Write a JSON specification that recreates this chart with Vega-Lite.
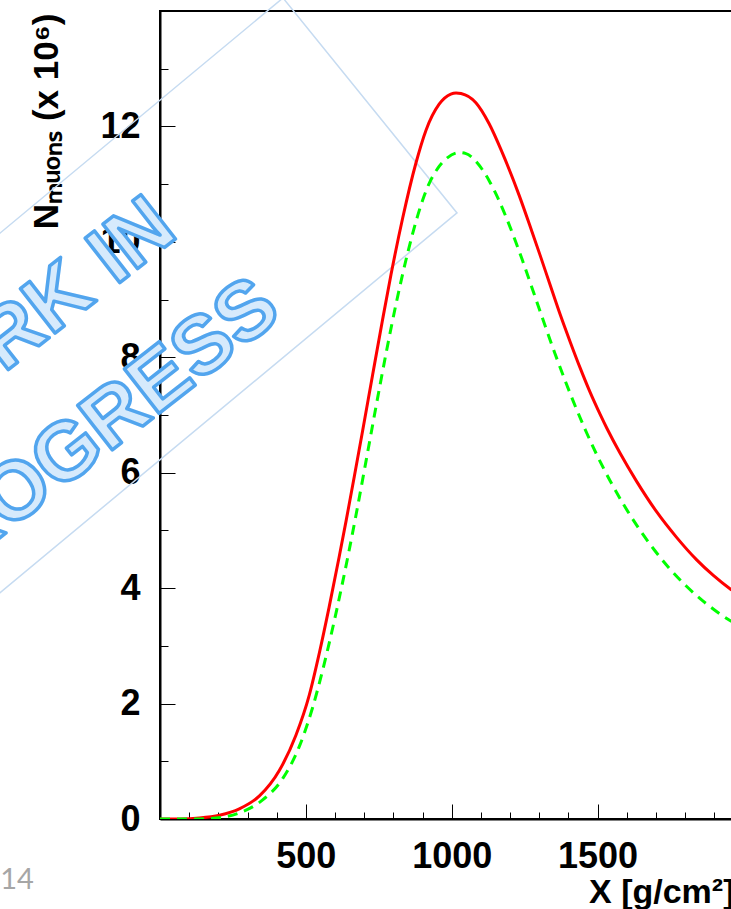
{
  "$schema": "https://vega.github.io/schema/vega-lite/v6.json",
  "width": 579,
  "height": 808,
  "autosize": {"type": "none"},
  "padding": {"left": 160, "top": 11, "right": -8, "bottom": 90},
  "background": "white",
  "config": {"view": {"stroke": "black", "strokeWidth": 2}, "font": "Liberation Sans"},
  "datasets": {
    "red": [
      {"x": 0, "y": 0}, {"x": 70, "y": 0.001}, {"x": 135, "y": 0.017}, {"x": 204, "y": 0.065},
      {"x": 272, "y": 0.175}, {"x": 341, "y": 0.4}, {"x": 409, "y": 0.84}, {"x": 466, "y": 1.45},
      {"x": 512, "y": 2.15}, {"x": 546, "y": 2.87}, {"x": 580, "y": 3.675}, {"x": 615, "y": 4.56},
      {"x": 638, "y": 5.165}, {"x": 666, "y": 5.93}, {"x": 695, "y": 6.736}, {"x": 729, "y": 7.698},
      {"x": 763, "y": 8.65}, {"x": 792, "y": 9.433}, {"x": 832, "y": 10.413}, {"x": 877, "y": 11.358},
      {"x": 912, "y": 11.935}, {"x": 957, "y": 12.385}, {"x": 997, "y": 12.56}, {"x": 1015, "y": 12.58},
      {"x": 1032, "y": 12.57}, {"x": 1083, "y": 12.41}, {"x": 1128, "y": 12.05}, {"x": 1173, "y": 11.55},
      {"x": 1231, "y": 10.81}, {"x": 1275, "y": 10.18}, {"x": 1303, "y": 9.77}, {"x": 1337, "y": 9.26},
      {"x": 1372, "y": 8.74}, {"x": 1406, "y": 8.27}, {"x": 1440, "y": 7.82}, {"x": 1474, "y": 7.4},
      {"x": 1509, "y": 7.01}, {"x": 1532, "y": 6.77}, {"x": 1577, "y": 6.34}, {"x": 1634, "y": 5.85},
      {"x": 1703, "y": 5.32}, {"x": 1771, "y": 4.88}, {"x": 1840, "y": 4.49}, {"x": 1897, "y": 4.22},
      {"x": 1954, "y": 3.99}, {"x": 2000, "y": 3.84}
    ],
    "green": [
      {"x": 0, "y": 0}, {"x": 120, "y": 0.0}, {"x": 192, "y": 0.018}, {"x": 272, "y": 0.106},
      {"x": 352, "y": 0.33}, {"x": 421, "y": 0.703}, {"x": 478, "y": 1.262}, {"x": 523, "y": 1.928},
      {"x": 558, "y": 2.586}, {"x": 592, "y": 3.31}, {"x": 626, "y": 4.099}, {"x": 649, "y": 4.669},
      {"x": 672, "y": 5.267}, {"x": 706, "y": 6.192}, {"x": 740, "y": 7.13}, {"x": 775, "y": 8.068},
      {"x": 809, "y": 8.918}, {"x": 849, "y": 9.806}, {"x": 880, "y": 10.395}, {"x": 900, "y": 10.715},
      {"x": 923, "y": 11.014}, {"x": 951, "y": 11.266}, {"x": 986, "y": 11.459}, {"x": 1026, "y": 11.547},
      {"x": 1049, "y": 11.529}, {"x": 1088, "y": 11.365}, {"x": 1128, "y": 11.065}, {"x": 1157, "y": 10.775},
      {"x": 1186, "y": 10.436}, {"x": 1220, "y": 9.994}, {"x": 1242, "y": 9.688}, {"x": 1269, "y": 9.297},
      {"x": 1292, "y": 8.959}, {"x": 1320, "y": 8.55}, {"x": 1354, "y": 8.067}, {"x": 1389, "y": 7.594},
      {"x": 1417, "y": 7.236}, {"x": 1457, "y": 6.756}, {"x": 1497, "y": 6.316}, {"x": 1543, "y": 5.861},
      {"x": 1588, "y": 5.46}, {"x": 1634, "y": 5.092}, {"x": 1691, "y": 4.687}, {"x": 1748, "y": 4.334},
      {"x": 1805, "y": 4.032}, {"x": 1862, "y": 3.775}, {"x": 1908, "y": 3.596}, {"x": 1954, "y": 3.44},
      {"x": 2000, "y": 3.307}
    ],
    "stamp": [
      {"k": 1, "x": -1950.7, "y": 4.263},
      {"k": 2, "x": 421.7, "y": 14.226},
      {"k": 3, "x": 1018.2, "y": 10.501},
      {"k": 4, "x": -1354, "y": 0.537}
    ],
    "stampText": [
      {"t": "WORK IN", "x": 68.6, "y": 10.11},
      {"t": "PROGRESS", "x": 425, "y": 8.72}
    ],
    "page": [
      {"t": "14", "x": -548, "y": -1.22}
    ]
  },
  "encoding": {
    "x": {
      "field": "x",
      "type": "quantitative",
      "scale": {"domain": [0, 1985], "nice": false, "zero": false},
      "axis": {
        "values": [0, 100, 200, 300, 400, 500, 600, 700, 800, 900, 1000, 1100, 1200, 1300, 1400, 1500, 1600, 1700, 1800, 1900],
        "format": "d",
        "labelExpr": "datum.value % 500 === 0 && datum.value > 0 ? datum.label : ''",
        "tickSize": {"condition": {"test": "datum.value % 500 === 0", "value": -15}, "value": -7},
        "tickColor": "black",
        "tickWidth": 1,
        "domainColor": "black",
        "domainWidth": 2,
        "grid": false,
        "labelFont": "Liberation Sans",
        "labelFontWeight": "bold",
        "labelFontSize": 36,
        "labelColor": "black",
        "labelPadding": 35,
        "labelOverlap": false,
        "labelFlush": false,
        "labelBound": false,
        "title": "X [g/cm²]",
        "titleFont": "Liberation Sans",
        "titleFontSize": 34,
        "titleFontWeight": "bold",
        "titleColor": "black",
        "titleAnchor": "end",
        "titleAlign": "right",
        "titleBaseline": "alphabetic",
        "titleX": 574,
        "titleY": 83
      }
    },
    "y": {
      "field": "y",
      "type": "quantitative",
      "scale": {"domain": [0, 14], "nice": false, "zero": false},
      "axis": {
        "values": [0, 0.5, 1, 1.5, 2, 2.5, 3, 3.5, 4, 4.5, 5, 5.5, 6, 6.5, 7, 7.5, 8, 8.5, 9, 9.5, 10, 10.5, 11, 11.5, 12, 12.5, 13, 13.5],
        "format": "d",
        "labelExpr": "datum.value % 2 === 0 ? datum.label : ''",
        "tickSize": {"condition": {"test": "datum.value % 2 === 0", "value": -15}, "value": -8},
        "tickColor": "black",
        "tickWidth": 1,
        "domainColor": "black",
        "domainWidth": 2,
        "grid": false,
        "labelFont": "Liberation Sans",
        "labelFontWeight": "bold",
        "labelFontSize": 36,
        "labelColor": "black",
        "labelPadding": 35,
        "labelOverlap": false,
        "labelFlush": false,
        "labelBound": false,
        "title": "Nₘᵤₒₙₛ (x 10⁶)",
        "titleFont": "Liberation Sans",
        "titleFontSize": 35,
        "titleFontWeight": "bold",
        "titleColor": "black",
        "titleAngle": 270,
        "titleAnchor": "end",
        "titleAlign": "right",
        "titleBaseline": "alphabetic",
        "titleX": -103,
        "titleY": 2
      }
    }
  },
  "layer": [
    {
      "data": {"name": "stamp"},
      "mark": {"type": "line", "stroke": "#c6dbf1", "strokeWidth": 1.5, "clip": false},
      "encoding": {"order": {"field": "k", "type": "quantitative"}}
    },
    {
      "data": {"name": "stampText"},
      "mark": {
        "type": "text",
        "align": "right",
        "baseline": "alphabetic",
        "angle": -38,
        "font": "Liberation Sans",
        "fontWeight": "bold",
        "fontSize": 82,
        "fill": "#d6eafc",
        "stroke": "#52a5ee",
        "strokeWidth": 3.5,
        "strokeJoin": "round",
        "clip": false
      },
      "encoding": {"text": {"field": "t"}}
    },
    {
      "data": {"name": "red"},
      "mark": {"type": "line", "color": "#ff0000", "strokeWidth": 3, "interpolate": "monotone", "clip": true}
    },
    {
      "data": {"name": "green"},
      "mark": {"type": "line", "color": "#00ff00", "strokeWidth": 3, "strokeDash": [10, 7], "interpolate": "monotone", "clip": true}
    },
    {
      "data": {"name": "page"},
      "mark": {"type": "text", "align": "left", "baseline": "alphabetic", "font": "Lato", "fontSize": 29, "fill": "#a6a6a6", "clip": false},
      "encoding": {"text": {"field": "t"}}
    }
  ]
}
